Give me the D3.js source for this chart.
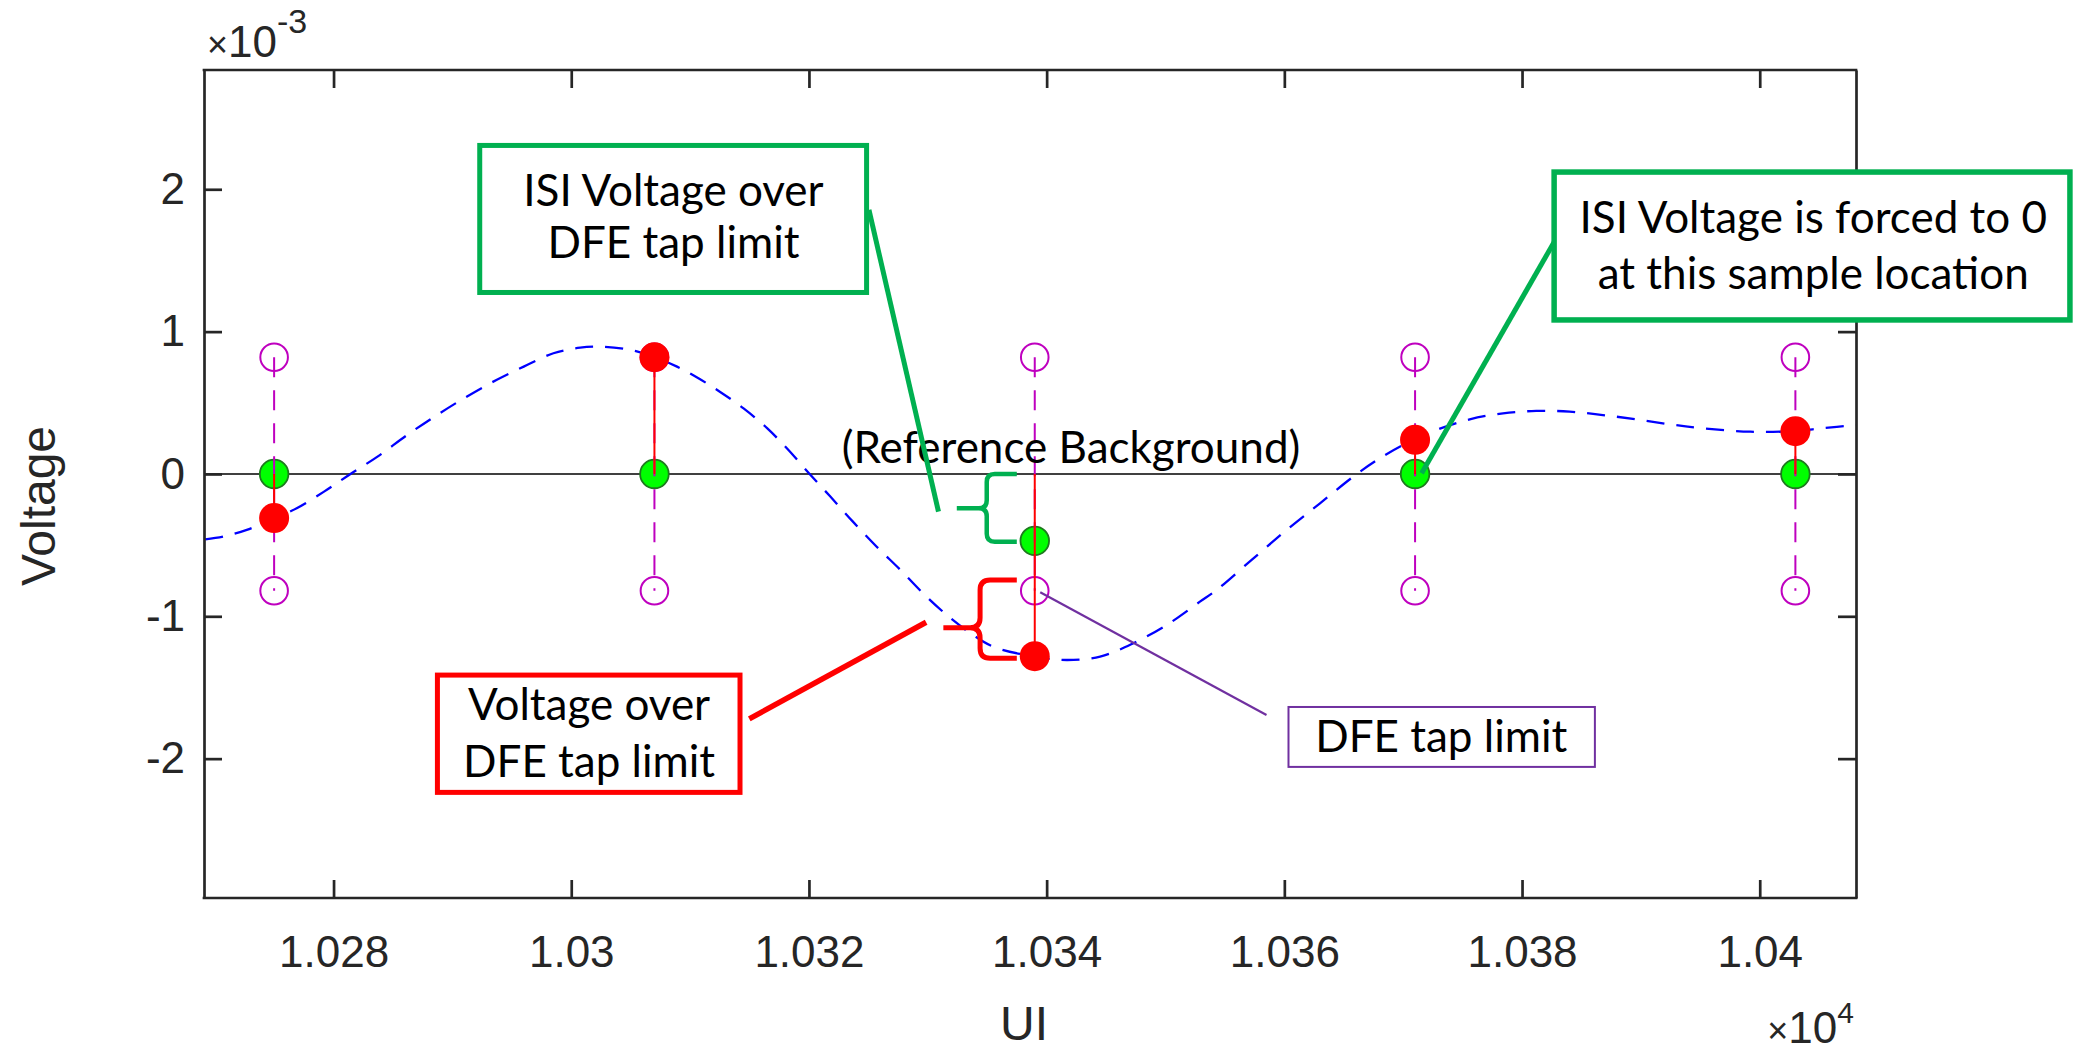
<!DOCTYPE html>
<html><head><meta charset="utf-8">
<script src="https://cdn.jsdelivr.net/npm/d3@7"></script>
<style>html,body{margin:0;padding:0;background:#fff;} svg{display:block;}</style>
</head><body>
<svg id="chart" width="2077" height="1052"></svg>
<script>
// ---------------- data (voltage in units of 1e-3 V, UI in unit intervals) ----------------
const sampleUI      = [10275, 10307, 10339, 10371, 10403];
const pulseSample   = [-0.31, 0.82, -1.28, 0.24, 0.30];   // red: pulse response at sample
const isiSample     = [0, 0, -0.47, 0, 0];                // green: ISI voltage after DFE
const tapLimitUpper = [0.82, 0.82, 0.82, 0.82, 0.82];
const tapLimitLower = [-0.82, -0.82, -0.82, -0.82, -0.82];

const curveUI = [10269.2, 10270.7, 10272.7, 10275.0, 10276.9, 10279.2, 10281.3, 10283.7, 10286.2, 10288.7,
  10291.2, 10293.7, 10296.0, 10298.5, 10300.75, 10302.7, 10305.0, 10306.9, 10308.9, 10310.7,
  10312.5, 10314.5, 10316.5, 10318.2, 10320.0, 10321.8, 10323.7, 10325.7, 10327.7, 10329.6,
  10331.6, 10333.6, 10335.5, 10339.0, 10341.7, 10344.5, 10347.3, 10350.1, 10352.9, 10354.3,
  10357.3, 10360.2, 10363.0, 10365.8, 10367.8, 10370.0, 10371.1, 10372.8, 10375.6, 10378.4,
  10381.2, 10384.0, 10386.8, 10389.6, 10392.4, 10395.2, 10399.2, 10403.1, 10405.3, 10408.1];
const curveV = [-0.459, -0.440, -0.393, -0.311, -0.241, -0.124, -0.007, 0.122, 0.274, 0.414,
  0.543, 0.660, 0.754, 0.848, 0.887, 0.894, 0.871, 0.824, 0.754, 0.672,
  0.578, 0.461, 0.320, 0.175, 0.005, -0.159, -0.335, -0.511, -0.674, -0.838,
  -0.991, -1.119, -1.213, -1.283, -1.307, -1.283, -1.189, -1.061, -0.897, -0.815,
  -0.600, -0.393, -0.206, -0.019, 0.098, 0.204, 0.244, 0.309, 0.384, 0.426,
  0.443, 0.438, 0.414, 0.384, 0.349, 0.321, 0.297, 0.302, 0.322, 0.343];

const xTickValues = [10280, 10300, 10320, 10340, 10360, 10380, 10400];
const xTickLabels = ["1.028", "1.03", "1.032", "1.034", "1.036", "1.038", "1.04"];
const yTickValues = [-2, -1, 0, 1, 2];
const yTickLabels = ["-2", "-1", "0", "1", "2"];

const xLabel = "UI", yLabel = "Voltage";
const noteBackground = "(Reference Background)";

// ---------------- layout ----------------
const W = 2077, H = 1052;
const margin = {left: 204, top: 70, right: W - 1856, bottom: H - 898};
const pw = W - margin.left - margin.right, ph = H - margin.top - margin.bottom;
const axisColor = "#262626";
const numFont = "'Liberation Sans', Arial, Helvetica, sans-serif";
const noteFont = "Lato, 'Open Sans', sans-serif";

const svg = d3.select("#chart");
svg.append("rect").attr("width", W).attr("height", H).attr("fill", "#fff");

const x = d3.scaleLinear().domain([10269.1, 10408.1]).range([margin.left, margin.left + pw]);
const y = d3.scaleLinear().domain([-2.979, 2.838]).range([margin.top + ph, margin.top]);

const plot = svg.append("g");

// zero reference line
plot.append("line")
  .attr("x1", x.range()[0]).attr("x2", x.range()[1])
  .attr("y1", y(0)).attr("y2", y(0))
  .attr("stroke", "#404040").attr("stroke-width", 2);

// blue dashed pulse response
const curvePts = curveUI.map((u, i) => [u, curveV[i]]);
plot.append("path").datum(curvePts)
  .attr("fill", "none").attr("stroke", "#0000FF").attr("stroke-width", 2.3)
  .attr("stroke-dasharray", "18,12")
  .attr("d", d3.line().x(d => x(d[0])).y(d => y(d[1])).curve(d3.curveCatmullRom.alpha(0.5)));

// green ISI markers
plot.selectAll("circle.isi").data(sampleUI).join("circle").attr("class", "isi")
  .attr("cx", d => x(d)).attr("cy", (d, i) => y(isiSample[i])).attr("r", 14.3)
  .attr("fill", "#00FF00").attr("stroke", "#1E7A1E").attr("stroke-width", 1.8);

// magenta tap limit stems
plot.selectAll("line.lim").data(sampleUI).join("line").attr("class", "lim")
  .attr("x1", d => x(d)).attr("x2", d => x(d))
  .attr("y1", (d, i) => y(tapLimitUpper[i])).attr("y2", (d, i) => y(tapLimitLower[i]))
  .attr("stroke", "#BF00BF").attr("stroke-width", 2).attr("stroke-dasharray", "20,13");
const limPts = sampleUI.flatMap((u, i) => [[u, tapLimitUpper[i]], [u, tapLimitLower[i]]]);
plot.selectAll("circle.lim").data(limPts).join("circle").attr("class", "lim")
  .attr("cx", d => x(d[0])).attr("cy", d => y(d[1])).attr("r", 13.8)
  .attr("fill", "none").attr("stroke", "#BF00BF").attr("stroke-width", 2);

// red stems + markers
plot.selectAll("line.stem").data(sampleUI).join("line").attr("class", "stem")
  .attr("x1", d => x(d)).attr("x2", d => x(d))
  .attr("y1", y(0)).attr("y2", (d, i) => y(pulseSample[i]))
  .attr("stroke", "#FF0000").attr("stroke-width", 2);
plot.selectAll("circle.pulse").data(sampleUI).join("circle").attr("class", "pulse")
  .attr("cx", d => x(d)).attr("cy", (d, i) => y(pulseSample[i])).attr("r", 15)
  .attr("fill", "#FF0000");

// ---------------- axes (box with inward ticks) ----------------
const tick = 18;
const ax = svg.append("g").attr("font-family", numFont);
const xb = ax.append("g").attr("transform", `translate(0,${margin.top + ph})`)
  .call(d3.axisBottom(x).tickValues(xTickValues).tickFormat((d, i) => xTickLabels[i])
        .tickSizeInner(-tick).tickSizeOuter(0).tickPadding(38));
const xt = ax.append("g").attr("transform", `translate(0,${margin.top})`)
  .call(d3.axisTop(x).tickValues(xTickValues).tickFormat("").tickSizeInner(-tick).tickSizeOuter(0));
const yl = ax.append("g").attr("transform", `translate(${margin.left},0)`)
  .call(d3.axisLeft(y).tickValues(yTickValues).tickFormat((d, i) => yTickLabels[i])
        .tickSizeInner(-tick).tickSizeOuter(0).tickPadding(19));
const yr = ax.append("g").attr("transform", `translate(${margin.left + pw},0)`)
  .call(d3.axisRight(y).tickValues(yTickValues).tickFormat("").tickSizeInner(-tick).tickSizeOuter(0));
[xb, xt, yl, yr].forEach(g => {
  g.select(".domain").attr("stroke", axisColor).attr("stroke-width", 2.7);
  g.selectAll(".tick line").attr("stroke", axisColor).attr("stroke-width", 2.7);
  g.selectAll(".tick text").attr("fill", axisColor).attr("font-size", 44).attr("font-family", numFont);
});
[xb, xt].forEach(g => g.select(".domain").attr("d", `M${margin.left - 1.35},0H${margin.left + pw + 1.35}`));

// exponent labels
const e1 = svg.append("text").attr("x", margin.left + 3).attr("y", 57)
  .attr("font-family", numFont).attr("font-size", 44).attr("fill", axisColor);
e1.append("tspan").text("\u00D7").attr("font-size", 36);
e1.append("tspan").text("10");
e1.append("tspan").text("-3").attr("font-size", 34).attr("dy", -24);
const e2 = svg.append("text").attr("x", margin.left + pw - 2).attr("y", 1043).attr("text-anchor", "end")
  .attr("font-family", numFont).attr("font-size", 44).attr("fill", axisColor);
e2.append("tspan").text("\u00D7").attr("font-size", 36);
e2.append("tspan").text("10");
e2.append("tspan").text("4").attr("font-size", 30).attr("dy", -20);

// axis titles
svg.append("text").text(xLabel).attr("x", margin.left + pw / 2 - 6).attr("y", 1040)
  .attr("text-anchor", "middle").attr("font-family", numFont).attr("font-size", 48).attr("fill", axisColor);
svg.append("text").text(yLabel)
  .attr("transform", `translate(55,${506}) rotate(-90)`)
  .attr("text-anchor", "middle").attr("font-family", numFont).attr("font-size", 48).attr("fill", axisColor);

// ---------------- annotations (in data coordinates) ----------------
const notes = svg.append("g").attr("font-family", noteFont).attr("font-size", 44).attr("fill", "#000");

notes.append("text").text(noteBackground).attr("x", x(10342.05)).attr("y", y(0.075))
  .attr("text-anchor", "middle");

function leader(u0, v0, u1, v1, color, w) {
  notes.append("line").attr("x1", x(u0)).attr("y1", y(v0)).attr("x2", x(u1)).attr("y2", y(v1))
    .attr("stroke", color).attr("stroke-width", w);
}
function box(b) {
  const x0 = x(b.u0), x1 = x(b.u1), y0 = y(b.v0), y1 = y(b.v1);
  notes.append("rect").attr("x", x0).attr("y", y0).attr("width", x1 - x0).attr("height", y1 - y0)
    .attr("fill", "#fff").attr("stroke", b.color).attr("stroke-width", b.sw);
  b.lines.forEach((t, i) => notes.append("text").text(t).attr("x", x(b.textU)).attr("y", y(b.baseV[i]))
    .attr("text-anchor", "middle"));
}
function brace(b) {
  const xe = x(b.uEnd), xs = x(b.uSpine), xt2 = x(b.uTip);
  const yt = y(b.vTop), ym = y(b.vMid), yb = y(b.vBot), r = b.r;
  const p = `M${xe},${yt} L${xs + r},${yt} Q${xs},${yt} ${xs},${yt + r} L${xs},${ym - r} Q${xs},${ym} ${xs - r},${ym} L${xt2},${ym}
             M${xs - r},${ym} Q${xs},${ym} ${xs},${ym + r} L${xs},${yb - r} Q${xs},${yb} ${xs + r},${yb} L${xe},${yb}`;
  notes.append("path").attr("d", p).attr("fill", "none").attr("stroke", b.color)
    .attr("stroke-width", b.sw).attr("stroke-linejoin", "round");
}

// leaders
leader(10325.05, 1.855, 10330.9, -0.265, "#00B050", 5);
leader(10314.98, -1.721, 10329.86, -1.042, "#FF0000", 5.5);
leader(10339.46, -0.831, 10358.5, -1.693, "#7030A0", 2.2);
leader(10383.2, 1.702, 10371.55, 0.005, "#00B050", 5);

// braces
brace({uEnd: 10337.49, uSpine: 10334.96, uTip: 10332.44, vTop: 0.0, vMid: -0.241, vBot: -0.476, color: "#00B050", sw: 4.5, r: 8});
brace({uEnd: 10337.49, uSpine: 10334.4, uTip: 10331.31, vTop: -0.745, vMid: -1.080, vBot: -1.295, color: "#FF0000", sw: 5, r: 10});

// boxes
box({u0: 10292.3, u1: 10324.85, v0: 2.308, v1: 1.275, color: "#00B050", sw: 5,
     lines: ["ISI Voltage over", "DFE tap limit"], textU: 10308.6, baseV: [1.883, 1.517]});
box({u0: 10288.74, u1: 10314.2, v0: -1.413, v1: -2.237, color: "#FF0000", sw: 5,
     lines: ["Voltage over", "DFE tap limit"], textU: 10301.5, baseV: [-1.728, -2.126]});
box({u0: 10382.7, u1: 10426.1, v0: 2.121, v1: 1.082, color: "#00B050", sw: 5.5,
     lines: ["ISI Voltage is forced to 0", "at this sample location"], textU: 10404.5, baseV: [1.695, 1.297]});
box({u0: 10360.35, u1: 10386.13, v0: -1.637, v1: -2.058, color: "#7030A0", sw: 2,
     lines: ["DFE tap limit"], textU: 10373.2, baseV: [-1.953]});
</script>
</body></html>
